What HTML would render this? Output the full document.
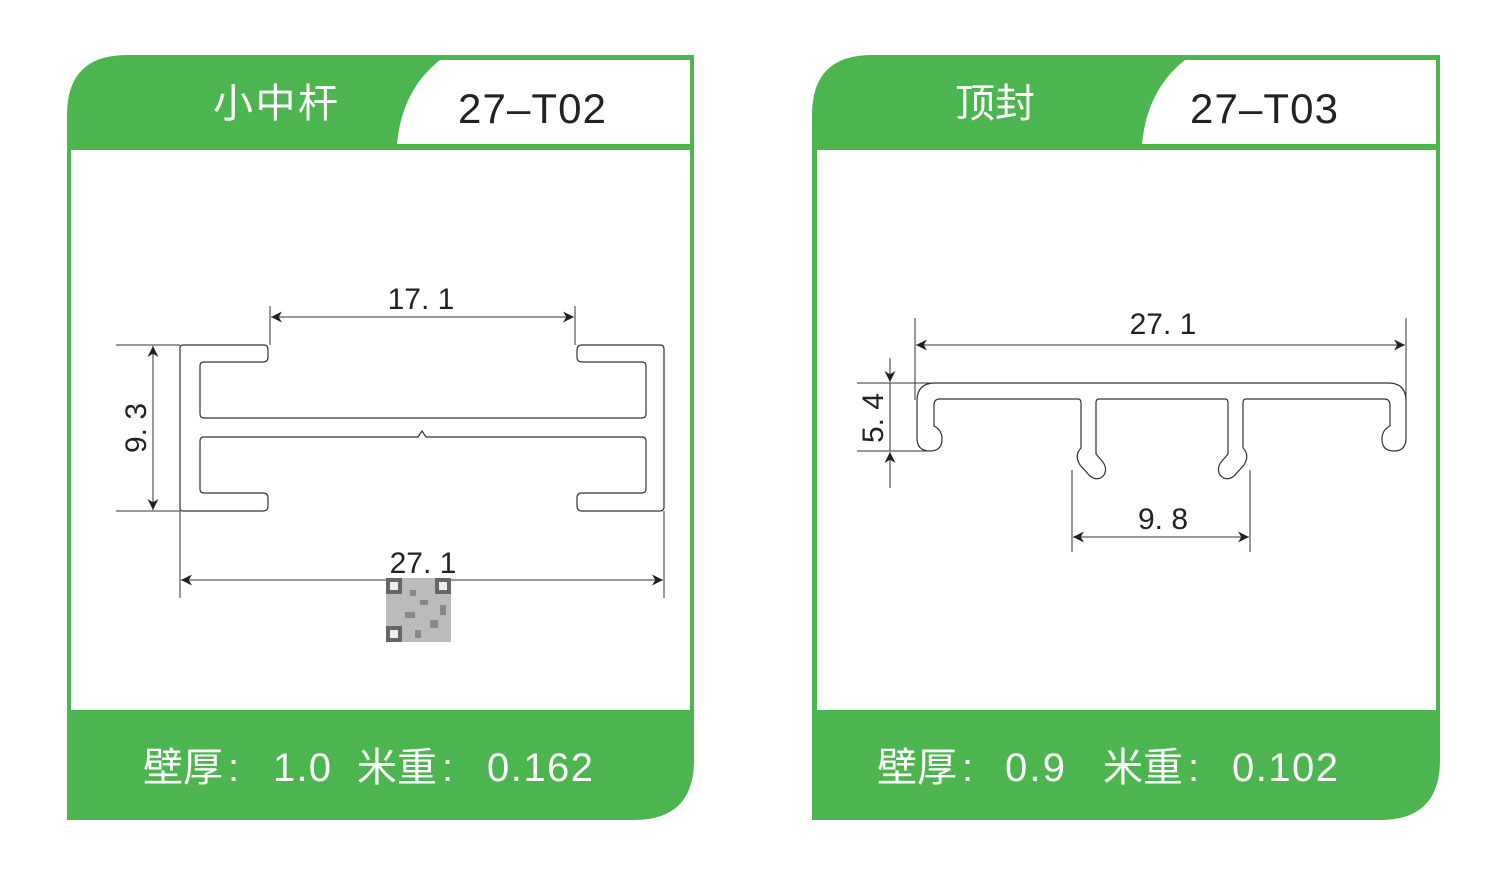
<!DOCTYPE html>
<html><head><meta charset="utf-8"><style>html,body{margin:0;padding:0;background:#fff}svg{display:block}</style></head>
<body>
<svg width="1500" height="888" viewBox="0 0 1500 888" xmlns="http://www.w3.org/2000/svg">
<defs>
<marker id="ar" viewBox="0 0 10 10" refX="10" refY="5" markerWidth="20" markerHeight="11" markerUnits="userSpaceOnUse" orient="auto-start-reverse"><path d="M0,0 L10,5 L0,10 L3,5 Z" fill="#222"/></marker>
</defs>
<g font-family="'Liberation Sans','Noto Sans CJK SC',sans-serif">
<!-- LEFT CARD -->
<path d="M67,148 V115 Q67,55 127,55 H694 V820 H67 Z" fill="#4cb550"/>
<path d="M634,820 Q694,820 694,760 V820 Z" fill="#fff"/>
<rect x="71" y="150" width="619" height="560" fill="#fff"/>
<path d="M397,144 Q402,90 440,60 H690 V144 Z" fill="#fff"/>
<text x="213" y="117" font-size="40" fill="#fff" textLength="125">小中杆</text>
<text x="458" y="123" font-size="42" fill="#222" textLength="148">27–T02</text>
<g font-size="40" fill="#fff">
<text x="143" y="781" textLength="80">壁厚</text><text x="228" y="781">:</text>
<text x="273" y="781" textLength="58">1.0</text>
<text x="357" y="781" textLength="80">米重</text><text x="442" y="781">:</text>
<text x="487" y="781" textLength="106">0.162</text>
</g>

<!-- RIGHT CARD -->
<path d="M812,148 V115 Q812,55 872,55 H1440 V820 H812 Z" fill="#4cb550"/>
<path d="M1380,820 Q1440,820 1440,760 V820 Z" fill="#fff"/>
<rect x="817" y="150" width="619" height="560" fill="#fff"/>
<path d="M1142,144 Q1147,90 1185,60 H1436 V144 Z" fill="#fff"/>
<text x="955" y="117" font-size="40" fill="#fff" textLength="80">顶封</text>
<text x="1190" y="123" font-size="42" fill="#222" textLength="148">27–T03</text>
<g font-size="40" fill="#fff">
<text x="877" y="781" textLength="80">壁厚</text><text x="962" y="781">:</text>
<text x="1005" y="781" textLength="60">0.9</text>
<text x="1103" y="781" textLength="80">米重</text><text x="1188" y="781">:</text>
<text x="1232" y="781" textLength="106">0.102</text>
</g>
</g>

<!-- LEFT PROFILE -->
<g fill="none" stroke="#333" stroke-width="1.2">
<path d="M183,345 H264 Q268,345 268,350 V357 Q268,362 263,362 H204 Q200,362 200,366 V414 Q200,418 204,418 H642 Q646,418 646,414 V366 Q646,362 642,362 H582 Q577,362 577,357 V350 Q577,345 582,345 H660 Q664,345 664,349 V507 Q664,511 660,511 H582 Q577,511 577,506 V498 Q577,493 582,493 H642 Q646,493 646,489 V441 Q646,437 642,437 H426 L422,431 L418,437 H204 Q200,437 200,441 V489 Q200,493 204,493 H263 Q268,493 268,498 V506 Q268,511 263,511 H183 Q180,511 180,508 V348 Q180,345 183,345 Z"/>
</g>
<g stroke="#333" stroke-width="1" fill="none">
<line x1="116" y1="345" x2="180" y2="345"/><line x1="116" y1="511" x2="180" y2="511"/>
<line x1="153" y1="346" x2="153" y2="510" marker-start="url(#ar)" marker-end="url(#ar)"/>
<line x1="270" y1="306" x2="270" y2="345"/><line x1="575" y1="306" x2="575" y2="345"/>
<line x1="271" y1="317" x2="574" y2="317" marker-start="url(#ar)" marker-end="url(#ar)"/>
<line x1="180" y1="511" x2="180" y2="598"/><line x1="664" y1="511" x2="664" y2="598"/>
<line x1="181" y1="580" x2="663" y2="580" marker-start="url(#ar)" marker-end="url(#ar)"/>
</g>
<g font-family="'Liberation Sans',sans-serif" font-size="30" fill="#222">
<text x="421" y="309" text-anchor="middle">17. 1</text>
<text x="423" y="573" text-anchor="middle">27. 1</text>
<text transform="translate(146,428) rotate(-90)" text-anchor="middle">9. 3</text>
</g>
<!-- QR -->
<g fill="#888">
<rect x="386" y="578" width="65" height="64" fill="#bbb"/>
<rect x="386" y="578" width="16" height="16" fill="#666"/><rect x="390" y="582" width="8" height="8" fill="#eee"/>
<rect x="435" y="578" width="16" height="16" fill="#666"/><rect x="439" y="582" width="8" height="8" fill="#eee"/>
<rect x="386" y="626" width="16" height="16" fill="#666"/><rect x="390" y="630" width="8" height="8" fill="#eee"/>
<rect x="410" y="590" width="6" height="6"/><rect x="420" y="600" width="8" height="5"/><rect x="405" y="612" width="10" height="6"/><rect x="430" y="620" width="8" height="8"/><rect x="415" y="630" width="6" height="8"/><rect x="440" y="605" width="6" height="10"/>
</g>

<!-- RIGHT PROFILE -->
<g fill="none" stroke="#333" stroke-width="1.2">
<path d="M935,383 H1388 Q1406,383 1406,401 V438 Q1406,451 1394,451 Q1382,451 1382,439 Q1382,430 1390,426 V405 Q1390,399 1384,399 H1246 Q1243,399 1243,403 V448 Q1250,455 1244,465 L1234,476 Q1226,482 1220,475 Q1216,468 1222,461 L1228,454 V403 Q1228,399 1225,399 H1099 Q1096,399 1096,403 V454 L1102,461 Q1108,468 1104,475 Q1098,482 1090,476 L1080,465 Q1074,455 1081,448 V403 Q1081,399 1078,399 H940 Q934,399 934,405 V426 Q942,430 942,439 Q942,451 930,451 Q917,451 917,438 V401 Q917,383 935,383 Z"/>
</g>
<g stroke="#333" stroke-width="1" fill="none">
<line x1="915" y1="318" x2="915" y2="400"/><line x1="1406" y1="318" x2="1406" y2="400"/>
<line x1="916" y1="345" x2="1405" y2="345" marker-start="url(#ar)" marker-end="url(#ar)"/>
<line x1="857" y1="383" x2="930" y2="383"/><line x1="857" y1="451" x2="930" y2="451"/>
<line x1="890" y1="358" x2="890" y2="382" marker-end="url(#ar)"/>
<line x1="890" y1="383" x2="890" y2="451"/>
<line x1="890" y1="488" x2="890" y2="452" marker-end="url(#ar)"/>
<line x1="1072" y1="470" x2="1072" y2="552"/><line x1="1250" y1="470" x2="1250" y2="552"/>
<line x1="1073" y1="537" x2="1249" y2="537" marker-start="url(#ar)" marker-end="url(#ar)"/>
</g>
<g font-family="'Liberation Sans',sans-serif" font-size="30" fill="#222">
<text x="1163" y="334" text-anchor="middle">27. 1</text>
<text x="1163" y="529" text-anchor="middle">9. 8</text>
<text transform="translate(883,418) rotate(-90)" text-anchor="middle">5. 4</text>
</g>
</svg>
</body></html>
